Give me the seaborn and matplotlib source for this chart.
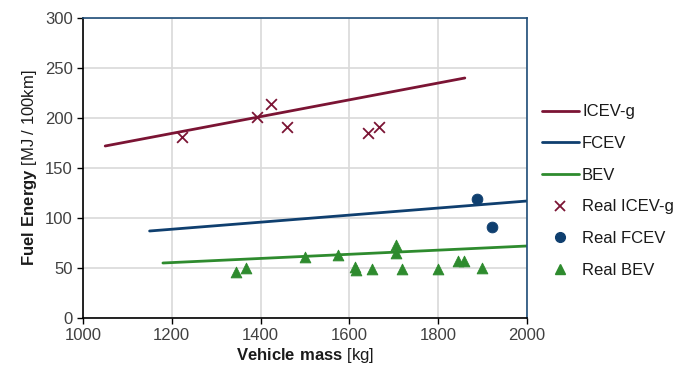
import numpy as np
import pandas as pd
import matplotlib
matplotlib.use("Agg")
import matplotlib.pyplot as plt
import seaborn as sns
from matplotlib.lines import Line2D

# Fitted lines (start / end)
icev_line_x = [1050, 1860]
icev_line_y = [172, 240]
fcev_line_x = [1150, 2000]
fcev_line_y = [87, 117]
bev_line_x = [1180, 2000]
bev_line_y = [55, 72]

# Real vehicles
icev_x = [1224, 1393, 1423, 1459, 1643, 1667]
icev_y = [181, 201, 214, 191, 185, 191]
fcev_x = [1887, 1922]
fcev_y = [119, 91]
bev_x = [1345, 1366, 1501, 1575, 1612, 1615, 1650, 1704, 1704, 1718, 1799, 1845, 1858, 1899]
bev_y = [46, 50, 61, 63, 51, 48, 49, 73, 65, 49, 49, 57, 57, 50]

x_ticks = [1000, 1200, 1400, 1600, 1800, 2000]
y_ticks = [0, 50, 100, 150, 200, 250, 300]

c_icev = "#7b1434"
c_fcev = "#0f3f6f"
c_bev = "#2e8b2e"

sns.set_theme(style="white")
plt.rcParams['font.family'] = ['Liberation Sans', 'DejaVu Sans']
plt.rcParams['mathtext.fontset'] = 'custom'
plt.rcParams['mathtext.rm'] = 'Liberation Sans'
plt.rcParams['mathtext.bf'] = 'Liberation Sans:bold'

fig = plt.figure(figsize=(6.86, 3.76), dpi=100)
ax = fig.add_axes([83/686, 58/376, 444/686, 300/376])

sns.lineplot(x=icev_line_x, y=icev_line_y, ax=ax, color=c_icev, lw=2, label="ICEV-g")
sns.lineplot(x=fcev_line_x, y=fcev_line_y, ax=ax, color=c_fcev, lw=2, label="FCEV")
sns.lineplot(x=bev_line_x, y=bev_line_y, ax=ax, color=c_bev, lw=2, label="BEV")
sns.scatterplot(x=icev_x, y=icev_y, ax=ax, marker="x", color=c_icev, s=60, linewidth=1.3, label="Real ICEV-g")
sns.scatterplot(x=fcev_x, y=fcev_y, ax=ax, marker="o", color=c_fcev, s=60, edgecolor=c_fcev, label="Real FCEV")
sns.scatterplot(x=bev_x, y=bev_y, ax=ax, marker="^", color=c_bev, s=60, edgecolor=c_bev, label="Real BEV")

ax.set_xlim(1000, 2000)
ax.set_ylim(0, 300)
ax.set_xticks(x_ticks)
ax.set_yticks(y_ticks)
ax.grid(True, color="#d9d9d9", lw=1.2)
ax.set_axisbelow(True)
ax.tick_params(axis="both", labelsize=12, colors="#404040", length=4, width=1,
               direction="out", bottom=True, left=True)
ax.tick_params(axis="both", color="black")
for s in ["left", "bottom"]:
    ax.spines[s].set_color("black")
    ax.spines[s].set_linewidth(1.2)
for s in ["top", "right"]:
    ax.spines[s].set_color("#1f4e79")
    ax.spines[s].set_linewidth(1.2)

ax.set_xlabel(r"$\bf{Vehicle\ mass}$ [kg]", fontsize=12, color="#1a1a1a", labelpad=2)
ax.set_ylabel(r"$\bf{Fuel\ Energy}$ [MJ / 100km]", fontsize=12, color="#1a1a1a", labelpad=4)

handles = [
    Line2D([], [], color=c_icev, lw=2),
    Line2D([], [], color=c_fcev, lw=2),
    Line2D([], [], color=c_bev, lw=2),
    Line2D([], [], color=c_icev, marker="x", ls="", markersize=7, mew=1.3),
    Line2D([], [], color=c_fcev, marker="o", ls="", markersize=7),
    Line2D([], [], color=c_bev, marker="^", ls="", markersize=7),
]
labels = ["ICEV-g", "FCEV", "BEV", "Real ICEV-g", "Real FCEV", "Real BEV"]
ax.legend(handles, labels, loc="center left", bbox_to_anchor=(1.0, 0.423), frameon=False,
          fontsize=12, handlelength=2.2, handletextpad=0.2, labelspacing=1.0,
          labelcolor="#1a1a1a")

fig.savefig("out.png", dpi=100)
